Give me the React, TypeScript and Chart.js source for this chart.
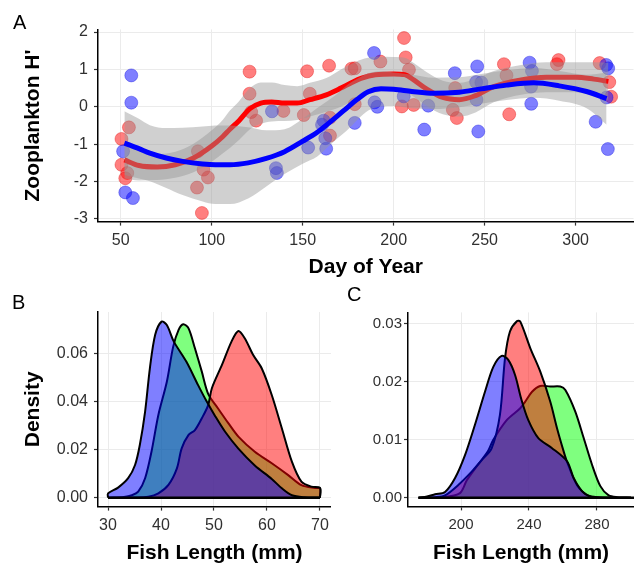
import React, { useEffect, useRef } from 'react';
import { Chart, registerables } from 'chart.js';
Chart.register(...registerables);

const FONT = "'Liberation Sans', Arial, Helvetica, sans-serif";

// ---------- Panel A data ----------
const A_X_TICKS = [50, 100, 150, 200, 250, 300];
const A_Y_TICKS = [-3, -2, -1, 0, 1, 2];

const redPoints: [number, number][] = [
  [50.4, -0.86], [54.5, -0.55], [50.4, -1.55], [53.6, -1.77], [52.5, -1.91],
  [92.4, -1.19], [95.5, -1.68], [97.9, -1.89], [91.9, -2.16], [94.6, -2.84],
  [120.8, 0.94], [120.8, 0.35], [121.7, -0.14], [124.4, -0.37], [139.4, -0.11],
  [152.4, 0.95], [164.5, 1.1], [153.9, 0.35], [150.6, -0.22], [165, -0.29], [165, -0.77],
  [176.8, 1.02], [178.6, 1.03], [192.7, 1.21], [178.6, 0.07],
  [205.7, 1.84], [206.6, 1.32], [208.4, 0.99], [204.5, 0.01], [211, 0.05],
  [233.8, 0.5], [232.5, -0.08], [234.7, -0.3],
  [260.6, 1.14], [262, 0.84], [263.5, -0.2],
  [290.6, 1.25], [289.7, 1.14],
  [313.2, 1.17], [318.5, 0.66], [319.5, 0.27],
];

const bluePoints: [number, number][] = [
  [55.8, 0.84], [55.8, 0.11], [51.3, -1.19], [52.5, -2.29], [56.7, -2.44],
  [133.1, -0.12], [135.3, -1.64], [135.8, -1.77],
  [161.5, -0.37], [160.6, -0.48], [162.4, -0.84], [153, -1.09], [162.9, -1.12],
  [189.2, 1.44], [189.5, 0.12], [191, 0], [178.6, -0.43], [205.5, 0.28],
  [219, 0.03], [216.8, -0.61], [233.6, 0.9], [245.9, 1.08], [245.3, 0.66], [248.2, 0.65], [245.5, 0.19], [246.5, -0.66],
  [274.7, 1.18], [276, 0.96], [275.5, 0.54], [275.6, 0.08],
  [316.8, 1.12], [317.9, 1.03], [317, 0.25], [311, -0.4], [317.7, -1.13],
];

const redSmoothDays = [52, 60, 70, 80, 90, 100, 106, 110, 115, 121, 127, 133, 140, 147, 154, 163, 171, 177, 182, 190, 200, 206, 211, 218, 227, 236, 245, 255, 270, 284, 300, 310, 318];
const redSmooth = [-1.42, -1.57, -1.61, -1.55, -1.37, -1.05, -0.8, -0.6, -0.37, -0.05, 0.1, 0.13, 0.1, 0.1, 0.19, 0.32, 0.5, 0.65, 0.76, 0.86, 0.88, 0.86, 0.72, 0.48, 0.25, 0.19, 0.3, 0.54, 0.72, 0.79, 0.79, 0.74, 0.68];
const redUpper = [-0.92, -1.17, -1.26, -1.2, -0.99, -0.63, -0.35, -0.1, 0.15, 0.5, 0.65, 0.65, 0.58, 0.55, 0.64, 0.77, 1.0, 1.15, 1.26, 1.34, 1.33, 1.31, 1.17, 0.93, 0.7, 0.64, 0.75, 0.96, 1.12, 1.19, 1.19, 1.19, 1.18];
const redLower = [-1.92, -1.97, -1.96, -1.9, -1.75, -1.47, -1.25, -1.1, -0.89, -0.6, -0.45, -0.39, -0.38, -0.35, -0.26, -0.13, 0.0, 0.15, 0.26, 0.38, 0.43, 0.41, 0.27, 0.03, -0.2, -0.26, -0.15, 0.12, 0.32, 0.39, 0.39, 0.29, 0.18];

const blueSmoothDays = [52, 60, 66, 75, 84, 95, 102, 110, 120, 130, 140, 150, 158, 164, 169, 175, 180, 186, 193, 200, 210, 222, 236, 248, 262, 277, 291, 306, 317];
const blueSmooth = [-0.97, -1.12, -1.24, -1.37, -1.46, -1.53, -1.55, -1.55, -1.5, -1.38, -1.2, -0.92, -0.68, -0.45, -0.25, 0.0, 0.2, 0.4, 0.48, 0.47, 0.41, 0.36, 0.39, 0.48, 0.58, 0.64, 0.56, 0.41, 0.22];
const blueUpper = [-0.12, -0.32, -0.49, -0.57, -0.56, -0.53, -0.5, -0.5, -0.55, -0.63, -0.6, -0.32, -0.03, 0.17, 0.35, 0.6, 0.75, 0.9, 0.95, 0.92, 0.86, 0.78, 0.79, 0.88, 0.98, 1.04, 0.96, 0.86, 0.92];
const blueLower = [-1.82, -1.92, -1.99, -2.17, -2.36, -2.53, -2.6, -2.6, -2.45, -2.13, -1.8, -1.52, -1.33, -1.07, -0.85, -0.6, -0.35, -0.1, 0.01, 0.02, -0.04, -0.06, -0.01, 0.08, 0.18, 0.24, 0.16, -0.04, -0.48];

// ---------- Panel B data ----------
const B_X_TICKS = [30, 40, 50, 60, 70];
const B_Y_TICKS = [0, 0.02, 0.04, 0.06];
const greenB: [number, number][] = [[30, 0], [33, 0.0003], [34.5, 0.001], [35.7, 0.0025], [37, 0.0081], [38.2, 0.0191], [39.5, 0.0344], [41.1, 0.0482], [42.3, 0.0628], [43.3, 0.0697], [44.2, 0.0721], [45.2, 0.0704], [46.4, 0.0621], [47.7, 0.0524], [48.9, 0.0432], [50.8, 0.037], [52.7, 0.031], [54.6, 0.0254], [57.7, 0.0191], [60.9, 0.0143], [64, 0.0094], [66.5, 0.0052], [69.1, 0.004], [70, 0.0039], [70, 0]];
const redB: [number, number][] = [[30, 0], [35, 0.0001], [37.6, 0.0004], [39.5, 0.0018], [41.4, 0.0053], [43, 0.0122], [43.9, 0.0205], [45.2, 0.0261], [46.4, 0.0281], [47.7, 0.033], [48.9, 0.0385], [49.6, 0.0455], [51.5, 0.0552], [53.3, 0.0649], [54.6, 0.0693], [55.8, 0.0663], [57.4, 0.0593], [59, 0.0538], [60.9, 0.0427], [62.8, 0.0289], [64.7, 0.015], [66.5, 0.0067], [68.4, 0.0046], [70, 0.0041], [70, 0]];
const blueB: [number, number][] = [[30, 0], [30, 0.0018], [31.9, 0.0042], [33.8, 0.0081], [35.1, 0.0136], [36, 0.0219], [37, 0.0358], [37.9, 0.0538], [38.9, 0.0677], [40.1, 0.0732], [41.1, 0.0718], [42.4, 0.065], [44.8, 0.0565], [47, 0.0468], [48.5, 0.0405], [50.2, 0.034], [52.1, 0.0274], [54.6, 0.0204], [57.7, 0.0134], [60.9, 0.0078], [62.8, 0.0039], [64.7, 0.001], [67, 0.0002], [70, 0.0001]];
const baseB: [number, number][] = [[30, 0], [70, 0]];

// ---------- Panel C data ----------
const C_X_TICKS = [200, 240, 280];
const C_Y_TICKS = [0, 0.01, 0.02, 0.03];
const greenC: [number, number][] = [[175, 0], [190, 0.0001], [199.4, 0.0008], [203.4, 0.003], [209.2, 0.0054], [215.8, 0.008], [219, 0.01], [226.9, 0.0134], [234.7, 0.0154], [237.8, 0.0166], [241.8, 0.0183], [246.6, 0.0193], [252.5, 0.0192], [258.4, 0.0192], [261.4, 0.0186], [267.2, 0.0149], [272.2, 0.0103], [277.1, 0.0057], [282, 0.002], [286.9, 0.0004], [292, 0.0001], [300, 0]];
const redC: [number, number][] = [[175, 0], [185, 0.0001], [190.6, 0.0004], [198.4, 0.0022], [206.3, 0.0045], [212.2, 0.0065], [218, 0.0085], [222.9, 0.0143], [225.9, 0.0241], [228.8, 0.0287], [233, 0.0305], [234.9, 0.0304], [240.8, 0.0258], [246.6, 0.0218], [252.5, 0.0166], [256.5, 0.012], [260.4, 0.008], [262.4, 0.0062], [268.2, 0.0022], [274.1, 0.0005], [280, 0.0001], [300, 0]];
const blueC: [number, number][] = [[175, 0], [180, 0.0002], [184.7, 0.0006], [190.6, 0.001], [196.5, 0.0034], [202.4, 0.0074], [208.2, 0.0126], [214.1, 0.0183], [219, 0.0226], [223.9, 0.0245], [227.8, 0.0238], [231.8, 0.0212], [235.5, 0.017], [239.6, 0.0134], [245.5, 0.0103], [253.4, 0.0086], [262.4, 0.0063], [266.3, 0.0034], [271.3, 0.0011], [276, 0.0002], [285, 0], [300, 0]];
const baseC: [number, number][] = [[175, 0], [301.8, 0]];

// ---------- helpers ----------
const pts = (a: [number, number][]) => a.map(([x, y]) => ({ x, y }));
const zip = (xs: number[], ys: number[]) => xs.map((x, i) => ({ x, y: ys[i] }));

type AxisOpts = {
  min: number; max: number; ticks: number[]; fmt: (v: number) => string;
  horizontal: boolean; fit: number; tickPad: number; tickFont: number;
  title?: string; titlePad?: any;
};

function axis(o: AxisOpts): any {
  return {
    type: 'linear',
    min: o.min,
    max: o.max,
    afterBuildTicks: (s: any) => { s.ticks = o.ticks.map((v) => ({ value: v })); },
    afterFit: (s: any) => {
      if (o.horizontal) s.height = o.fit; else s.width = o.fit;
      s.paddingLeft = 0; s.paddingRight = 0; s.paddingTop = 0; s.paddingBottom = 0;
    },
    ticks: {
      callback: (v: any) => o.fmt(Number(v)),
      color: '#303030',
      font: { family: FONT, size: o.tickFont },
      padding: o.tickPad,
      autoSkip: false,
      maxRotation: 0,
      minRotation: 0,
    },
    grid: { color: '#ebebeb', lineWidth: 1, tickColor: '#333', tickLength: 4, tickWidth: 1.2, drawTicks: true },
    border: { display: true, color: '#000', width: 1.5 },
    title: o.title
      ? { display: true, text: o.title, color: '#000', font: { family: FONT, size: 21, weight: 'bold' }, padding: o.titlePad }
      : { display: false },
  };
}

const baseOptions = (padding: any, x: any, y: any): any => ({
  responsive: false,
  maintainAspectRatio: false,
  animation: false,
  events: [],
  layout: { padding },
  plugins: {
    legend: { display: false },
    tooltip: { enabled: false },
    filler: { propagate: false, drawTime: 'beforeDatasetDraw' },
  },
  scales: { x, y },
});

function configA(): any {
  const band = 'rgba(150,150,150,0.45)';
  const noLine = { type: 'line', pointRadius: 0, borderWidth: 0, cubicInterpolationMode: 'monotone' };
  return {
    type: 'line',
    data: {
      datasets: [
        { type: 'line', data: pts(redPoints), showLine: false, pointRadius: 6.5, pointBackgroundColor: 'rgba(255,0,0,0.5)', pointBorderColor: 'rgba(220,0,0,0.35)', pointBorderWidth: 1, order: 10 },
        { type: 'line', data: pts(bluePoints), showLine: false, pointRadius: 6.5, pointBackgroundColor: 'rgba(0,0,255,0.5)', pointBorderColor: 'rgba(0,0,220,0.35)', pointBorderWidth: 1, order: 9 },
        { ...noLine, data: zip(redSmoothDays, redUpper), fill: false, order: 8 },
        { ...noLine, data: zip(redSmoothDays, redLower), fill: 2, backgroundColor: band, order: 7 },
        { type: 'line', data: zip(redSmoothDays, redSmooth), borderColor: '#ff0000', borderWidth: 5, pointRadius: 0, fill: false, cubicInterpolationMode: 'monotone', order: 6 },
        { ...noLine, data: zip(blueSmoothDays, blueUpper), fill: false, order: 5 },
        { ...noLine, data: zip(blueSmoothDays, blueLower), fill: 5, backgroundColor: band, order: 4 },
        { type: 'line', data: zip(blueSmoothDays, blueSmooth), borderColor: '#0000ff', borderWidth: 5, pointRadius: 0, fill: false, cubicInterpolationMode: 'monotone', order: 3 },
      ],
    },
    options: baseOptions(
      { left: 0, right: 0, top: 29.4, bottom: 0 },
      axis({ min: 37.5, max: 331.8, ticks: A_X_TICKS, fmt: (v) => String(v), horizontal: true, fit: 68.4, tickPad: 5, tickFont: 16, title: 'Day of Year', titlePad: { top: 0, bottom: 10 } }),
      axis({ min: -3.07, max: 2.07, ticks: A_Y_TICKS, fmt: (v) => String(v), horizontal: false, fit: 98, tickPad: 6, tickFont: 16, title: "Zooplankton H'", titlePad: { top: 20.4, bottom: 0 } }),
    ),
  };
}

function densitySet(data: [number, number][], color: string, order: number): any {
  return { type: 'line', data: pts(data), fill: 'origin', backgroundColor: color, borderColor: '#000', borderWidth: 2, pointRadius: 0, tension: 0.3, order };
}

function configB(): any {
  return {
    type: 'line',
    data: {
      datasets: [
        densitySet(greenB, 'rgba(0,255,0,0.5)', 3),
        densitySet(redB, 'rgba(255,0,0,0.5)', 2),
        densitySet(blueB, 'rgba(0,0,255,0.5)', 1),
        { type: 'line', data: pts(baseB), borderColor: '#000', borderWidth: 2.5, pointRadius: 0, fill: false, order: 0 },
      ],
    },
    options: baseOptions(
      { left: 0, right: 0, top: 32, bottom: 0 },
      axis({ min: 28.11, max: 72.08, ticks: B_X_TICKS, fmt: (v) => String(v), horizontal: true, fit: 58.4, tickPad: 5, tickFont: 16, title: 'Fish Length (mm)', titlePad: { top: 0, bottom: -1 } }),
      axis({ min: -0.0037, max: 0.0772, ticks: B_Y_TICKS, fmt: (v) => v.toFixed(2), horizontal: false, fit: 98, tickPad: 6, tickFont: 16, title: 'Density', titlePad: { top: 20.4, bottom: 0 } }),
    ),
  };
}

function configC(): any {
  return {
    type: 'line',
    data: {
      datasets: [
        densitySet(greenC, 'rgba(0,255,0,0.5)', 3),
        densitySet(redC, 'rgba(255,0,0,0.5)', 2),
        densitySet(blueC, 'rgba(0,0,255,0.5)', 1),
        { type: 'line', data: pts(baseC), borderColor: '#000', borderWidth: 2.5, pointRadius: 0, fill: false, order: 0 },
      ],
    },
    options: baseOptions(
      { left: 0, right: 0, top: 32.4, bottom: 0 },
      axis({ min: 168.8, max: 301.8, ticks: C_X_TICKS, fmt: (v) => String(v), horizontal: true, fit: 58.6, tickPad: 5, tickFont: 15, title: 'Fish Length (mm)', titlePad: { top: 0, bottom: -1 } }),
      axis({ min: -0.0015, max: 0.032, ticks: C_Y_TICKS, fmt: (v) => v.toFixed(2), horizontal: false, fit: 77, tickPad: 2, tickFont: 15 }),
    ),
  };
}

function Panel(props: { left: number; top: number; width: number; height: number; make: () => any }) {
  const ref = useRef<HTMLCanvasElement>(null);
  useEffect(() => {
    const chart = new Chart(ref.current as HTMLCanvasElement, props.make());
    return () => chart.destroy();
  }, []);
  return (
    <canvas
      ref={ref}
      width={props.width}
      height={props.height}
      style={{ position: 'absolute', left: props.left, top: props.top, width: props.width, height: props.height }}
    />
  );
}

const letterStyle = (left: number, top: number): React.CSSProperties => ({
  position: 'absolute', left, top, fontFamily: FONT, fontSize: 20, lineHeight: '20px', color: '#000',
});

export default function App() {
  return (
    <div style={{ position: 'absolute', left: 0, top: 0, width: 634, height: 565, overflow: 'hidden', background: '#fff' }}>
      <Panel left={0} top={0} width={641} height={290} make={configA} />
      <Panel left={0} top={280} width={331} height={285} make={configB} />
      <Panel left={331} top={280} width={303} height={285} make={configC} />
      <div style={letterStyle(13, 12.4)}>A</div>
      <div style={letterStyle(12, 292.4)}>B</div>
      <div style={letterStyle(347, 284.4)}>C</div>
    </div>
  );
}
